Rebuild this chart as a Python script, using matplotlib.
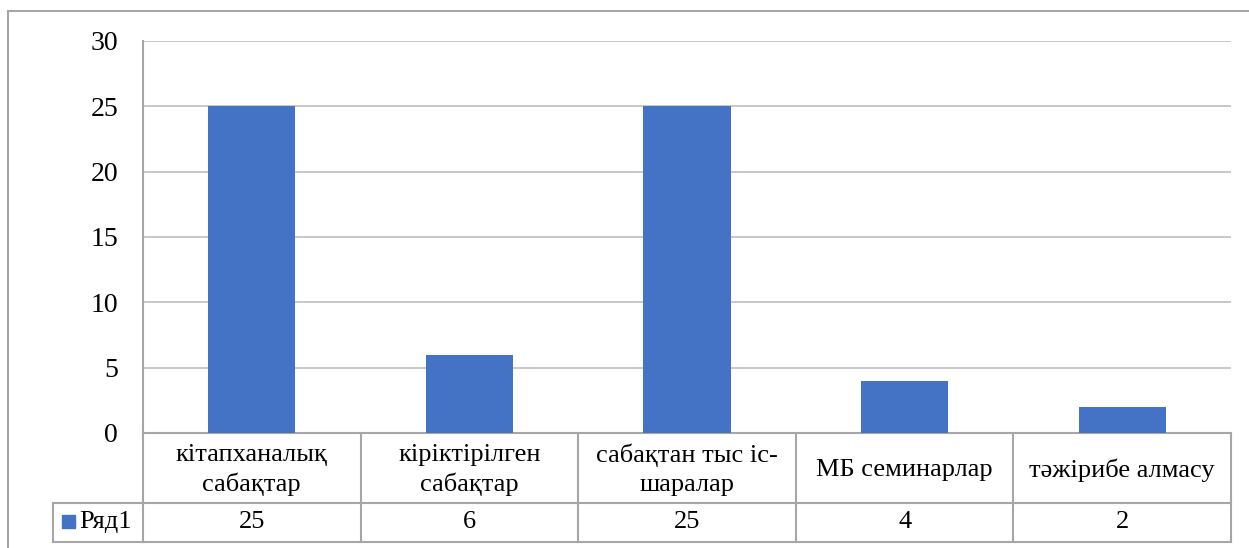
import matplotlib.pyplot as plt
from matplotlib.lines import Line2D
from matplotlib.patches import Rectangle

# data
categories = ["кітапханалық\nсабақтар", "кіріктірілген\nсабақтар", "сабақтан тыс іс-\nшаралар",
              "МБ семинарлар", "тәжірибе алмасу"]
values = [25, 6, 25, 4, 2]
series_name = "Ряд1"
yticks = [0, 5, 10, 15, 20, 25, 30]

plt.rcParams['font.family'] = ['Liberation Serif', 'DejaVu Serif']
W, H = 1249, 548
bar_color = "#4472C4"
grid_color = "#BFBFBF"
line_color = "#A6A6A6"
fs = 19

fig = plt.figure(figsize=(W / 100, H / 100), dpi=100)

# plot area in pixels
left, right, top, bottom = 143, 1231, 41, 433
ax = fig.add_axes([left / W, (H - bottom) / H, (right - left) / W, (bottom - top) / H])

x = list(range(len(values)))
ax.bar(x, values, width=0.4, color=bar_color, zorder=3)
ax.set_xlim(-0.5, len(values) - 0.5)
ax.set_ylim(0, 30)
ax.set_yticks(yticks)
ax.set_yticklabels([str(t) for t in yticks], fontsize=fs + 1)
ax.tick_params(axis='y', length=0, pad=18)
ax.set_xticks([])
ax.grid(axis='y', color=grid_color, linewidth=1.2, zorder=0)
for s in ax.spines.values():
    s.set_visible(False)
ax.spines['left'].set_visible(True)
ax.spines['left'].set_color(line_color)
ax.spines['left'].set_linewidth(1.5)

# data table below the plot
ph = bottom - top
r1 = -(503 - bottom) / ph
r2 = -(542 - bottom) / ph
tr = ax.get_xaxis_transform()
lw = 1.5
for yy in [0, r1, r2]:
    ax.add_line(Line2D([-0.5, len(values) - 0.5], [yy, yy], transform=tr, color=line_color,
                       lw=lw, clip_on=False))
for i in range(len(values) + 1):
    ax.add_line(Line2D([i - 0.5, i - 0.5], [0, r2], transform=tr, color=line_color,
                       lw=lw, clip_on=False))
for i, (c, v) in enumerate(zip(categories, values)):
    ax.text(i, r1 / 2 - 0.005, c, transform=tr, ha='center', va='center', fontsize=fs,
            linespacing=1.4, clip_on=False)
    ax.text(i, (r1 + r2) / 2, str(v), transform=tr, ha='center', va='center', fontsize=fs,
            clip_on=False)

# legend cell
lx0 = (53 - left) / (right - left)
ta = ax.transAxes
ax.add_line(Line2D([lx0, 0], [r1, r1], transform=ta, color=line_color, lw=lw, clip_on=False))
ax.add_line(Line2D([lx0, 0], [r2, r2], transform=ta, color=line_color, lw=lw, clip_on=False))
ax.add_line(Line2D([lx0, lx0], [r1, r2], transform=ta, color=line_color, lw=lw, clip_on=False))
fig.add_artist(Rectangle((62 / W, (H - 528) / H), 13 / W, 13 / H, transform=fig.transFigure,
                         color=bar_color))
fig.text(79 / W, (H - 522) / H, series_name, fontsize=fs, va='center', ha='left')

# outer chart border
fig.add_artist(Line2D([8 / W, 8 / W], [0, (H - 11) / H], transform=fig.transFigure,
                      color=line_color, lw=1.5))
fig.add_artist(Line2D([8 / W, 1], [(H - 11) / H, (H - 11) / H], transform=fig.transFigure,
                      color=line_color, lw=1.5))

fig.savefig("out.png", dpi=100)
